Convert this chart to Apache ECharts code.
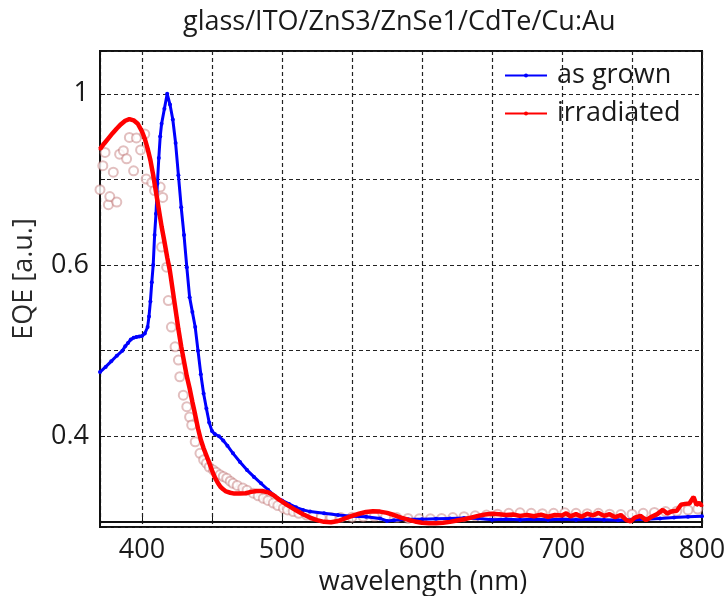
<!DOCTYPE html>
<html>
<head>
<meta charset="utf-8">
<script src="https://cdn.jsdelivr.net/npm/echarts@6/dist/echarts.min.js"></script>
<style>html,body{margin:0;padding:0;background:#fff}#c{width:726px;height:596px}</style>
</head>
<body>
<div id="c"></div>
<script>
// ---- data ----
const titleText = 'glass/ITO/ZnS3/ZnSe1/CdTe/Cu:Au';
const xName = 'wavelength (nm)';
const yName = 'EQE [a.u.]';
const xTickValues = [400, 500, 600, 700, 800];
const xTickLabels = ['400', '500', '600', '700', '800'];
const yTickValues = [0.2, 0.6, 1.0];
const yTickLabels = ['0.4', '0.6', '1'];

const asGrownWl = [370,374,378,382,386,388,390,392,394,396,398,400,402,404,405,406,407,408,409,410,411,412,413,414,416,418,420,422,424,426,428,430,432,434,436,438,440,442,444,446,448,450,452,455,458,461,465,470,475,480,485,490,495,500,505,510,515,520,530,540,550,560,570,575,580,590,600,610,620,630,640,650,660,670,680,690,700,710,720,730,740,750,760,770,780,790,800];
const asGrownEqe = [0.350,0.362,0.375,0.388,0.400,0.410,0.418,0.426,0.430,0.432,0.433,0.434,0.440,0.455,0.480,0.515,0.560,0.600,0.670,0.720,0.790,0.850,0.900,0.930,0.965,1.000,0.975,0.940,0.885,0.810,0.735,0.670,0.595,0.525,0.490,0.455,0.400,0.345,0.300,0.265,0.232,0.212,0.205,0.200,0.190,0.178,0.160,0.140,0.121,0.105,0.090,0.075,0.060,0.050,0.042,0.034,0.028,0.024,0.020,0.016,0.013,0.012,0.008,0.002,0.004,0.006,0.006,0.007,0.008,0.009,0.008,0.005,0.006,0.005,0.006,0.005,0.006,0.005,0.006,0.005,0.004,0.005,0.006,0.008,0.010,0.012,0.013];

const irradWl = [370,373,376,379,382,385,388,391,394,397,400,402,404,406,408,410,412,414,416,418,420,422,424,426,428,430,432,434,436,438,440,442,444,446,448,450,452,454,456,458,460,463,466,470,474,478,482,486,490,494,498,502,506,510,515,520,525,530,535,540,545,550,555,560,565,570,575,580,585,590,595,600,605,610,615,620,625,630,635,640,645,650,655,660,665,670,675,680,685,690,695,700,703,706,710,714,718,722,726,730,734,738,742,746,749,752,756,760,764,768,772,775,778,782,785,788,791,794,796,798,800];
const irradEqe = [0.871,0.884,0.896,0.908,0.919,0.929,0.937,0.941,0.938,0.930,0.912,0.895,0.872,0.845,0.810,0.770,0.730,0.690,0.655,0.618,0.585,0.540,0.495,0.450,0.410,0.375,0.340,0.312,0.280,0.250,0.218,0.192,0.172,0.155,0.138,0.120,0.104,0.092,0.082,0.076,0.071,0.068,0.066,0.066,0.067,0.070,0.072,0.072,0.069,0.062,0.052,0.043,0.035,0.027,0.018,0.010,0.004,0.000,-0.001,0.002,0.008,0.014,0.019,0.023,0.025,0.024,0.021,0.016,0.010,0.005,0.001,-0.002,-0.003,-0.003,-0.002,0.000,0.003,0.006,0.010,0.014,0.017,0.019,0.018,0.016,0.017,0.014,0.016,0.013,0.017,0.012,0.016,0.015,0.020,0.013,0.018,0.012,0.019,0.015,0.021,0.014,0.018,0.011,0.016,0.004,0.001,0.010,0.014,0.004,0.012,0.018,0.028,0.020,0.024,0.026,0.040,0.042,0.043,0.058,0.040,0.044,0.038];

const rawWl = [370,372,373.6,376,377,379.5,382,384,386.7,389,391,394,396,399,402,403,407,409,413,414.8,414,417.6,418.8,421,423.6,426,427,429.5,432,434,435.5,438,441.4,444,446,448,451,453,455.7,458,460.5,463,465,468,472,475,479.5,483,486.6,490,493.8,497,501,504,508,512,517.6,522,528,535,542,550,558,566,574,582,590,598,606,614,622,630,638,646,654,662,670,678,686,694,702,710,718,726,734,742,750,758,766,774,782,790,797];
const rawEqe = [0.776,0.832,0.863,0.741,0.760,0.817,0.747,0.859,0.867,0.848,0.898,0.820,0.897,0.869,0.906,0.801,0.793,0.774,0.782,0.758,0.642,0.595,0.517,0.455,0.409,0.378,0.339,0.296,0.269,0.245,0.226,0.187,0.160,0.145,0.137,0.128,0.121,0.116,0.110,0.106,0.102,0.095,0.090,0.085,0.079,0.074,0.067,0.061,0.055,0.050,0.044,0.038,0.032,0.028,0.024,0.020,0.016,0.013,0.011,0.010,0.010,0.011,0.012,0.013,0.012,0.010,0.008,0.007,0.007,0.008,0.010,0.012,0.014,0.016,0.018,0.020,0.021,0.020,0.019,0.020,0.021,0.020,0.019,0.020,0.018,0.017,0.018,0.020,0.022,0.024,0.025,0.028,0.030];

const zip = (a, b) => a.map((v, i) => [v, b[i]]);
const FONT = '"Open Sans"';
const TXT = '#1a1a1a';

const chart = echarts.init(document.getElementById('c'), null, {renderer: 'canvas'});
chart.setOption({
  animation: false,
  backgroundColor: '#fff',
  title: {
    text: titleText,
    left: 178, top: 4,
    textStyle: {fontFamily: FONT, fontSize: 27, fontWeight: 'normal', color: TXT}
  },
  legend: {
    data: ['as grown', 'irradiated'],
    orient: 'vertical',
    left: 499, top: 57,
    itemWidth: 42, itemHeight: 5, itemGap: 11,
    textStyle: {fontFamily: FONT, fontSize: 27, color: TXT, padding: [0, 0, 0, 5]}
  },
  grid: {left: 100, right: 24, top: 51, bottom: 69, outerBoundsMode: 'none', containLabel: false,
         show: true, borderColor: '#111', borderWidth: 2, backgroundColor: '#fff'},
  xAxis: {
    type: 'value', min: 370, max: 800, minInterval: 50, maxInterval: 50,
    name: xName, nameLocation: 'middle', nameGap: 36,
    nameTextStyle: {fontFamily: FONT, fontSize: 27, color: TXT, padding: [0, 0, 0, 44]},
    axisLine: {show: true, lineStyle: {color: '#111', width: 2}},
    axisTick: {show: true, inside: true, length: 5, lineStyle: {color: '#111'}},
    axisLabel: {
      fontFamily: FONT, fontSize: 27, color: TXT, margin: 10,
      formatter: v => { const i = xTickValues.indexOf(v); return i >= 0 ? xTickLabels[i] : ''; }
    },
    splitLine: {show: true, lineStyle: {color: '#222', width: 1.2, type: [4, 3]}}
  },
  yAxis: {
    type: 'value', min: -0.012, max: 1.1, minInterval: 0.2, maxInterval: 0.2,
    name: yName, nameLocation: 'middle', nameGap: 62, nameRotate: 90,
    nameTextStyle: {fontFamily: FONT, fontSize: 27, color: '#2a2a2a', padding: [0, 0, 0, 20]},
    axisLine: {show: true, lineStyle: {color: '#111', width: 2}},
    axisTick: {show: true, inside: true, length: 5, lineStyle: {color: '#111'}},
    axisLabel: {
      fontFamily: FONT, fontSize: 27, color: TXT, margin: 11,
      formatter: v => { const i = yTickValues.findIndex(t => Math.abs(t - v) < 1e-6); return i >= 0 ? yTickLabels[i] : ''; }
    },
    splitLine: {show: true, lineStyle: {color: '#222', width: 1.2, type: [4, 3]}}
  },
  series: [
    {
      name: 'raw', type: 'scatter', data: zip(rawWl, rawEqe),
      symbol: 'emptyCircle', symbolSize: 9, silent: true,
      itemStyle: {color: 'rgba(190,110,110,0.55)', borderWidth: 1.2},
      z: 1
    },
    {
      name: 'as grown', type: 'line', data: zip(asGrownWl, asGrownEqe),
      symbol: 'circle', symbolSize: 4, showSymbol: true, clip: true,
      lineStyle: {color: '#0000ff', width: 3}, itemStyle: {color: '#0000ff'},
      z: 3
    },
    {
      name: 'irradiated', type: 'line', data: zip(irradWl, irradEqe),
      symbol: 'circle', symbolSize: 3, showSymbol: true, clip: true,
      lineStyle: {color: '#ff0000', width: 4.5}, itemStyle: {color: '#ff0000'},
      z: 4
    }
  ]
});
</script>
</body>
</html>
